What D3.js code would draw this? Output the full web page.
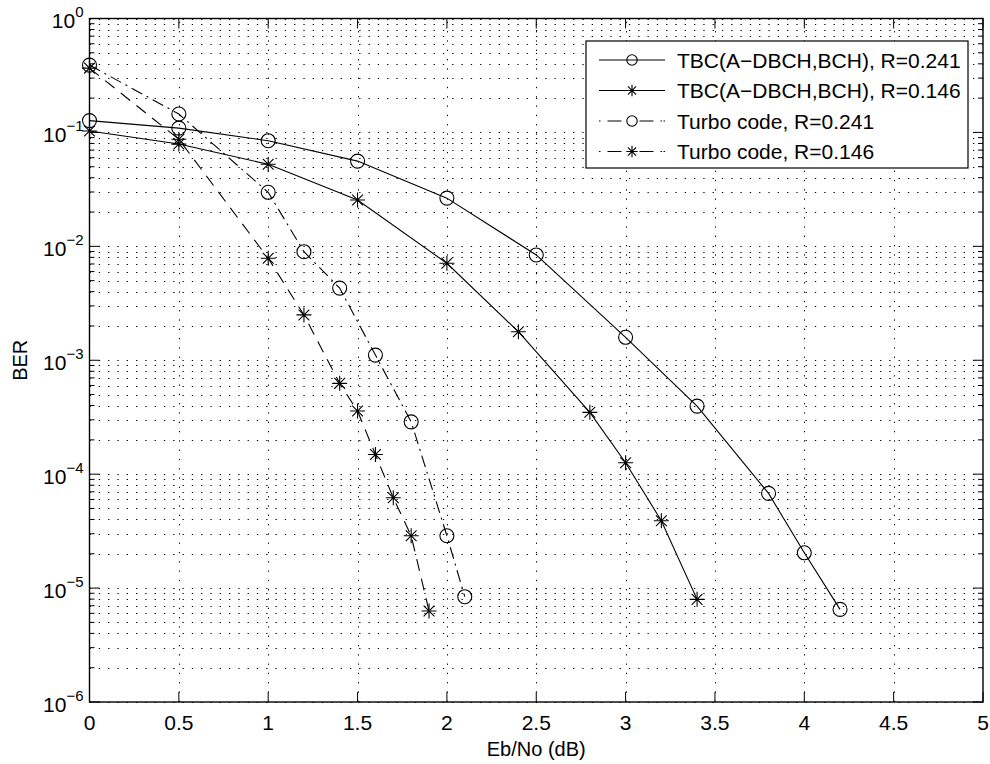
<!DOCTYPE html>
<html>
<head>
<meta charset="utf-8">
<script src="https://cdn.jsdelivr.net/npm/d3@7"></script>
<style>
  html, body { margin: 0; padding: 0; background: #fff; }
  svg { display: block; font-family: "Liberation Sans", Arial, Helvetica, sans-serif; }
</style>
</head>
<body>
<svg id="chart" width="990" height="764"></svg>
<script>
// BER versus Eb/No for the two rates of each coding scheme
const tbc241X = [0, 0.5, 1, 1.5, 2, 2.5, 3, 3.4, 3.8, 4, 4.2];
const tbc241Y = [0.127, 0.109, 0.0846, 0.056, 0.0265, 0.0084, 0.00159, 3.96e-4, 6.78e-5, 2.04e-5, 6.5e-6];

const tbc146X = [0, 0.5, 1, 1.5, 2, 2.4, 2.8, 3.0, 3.2, 3.4];
const tbc146Y = [0.103, 0.079, 0.0525, 0.0255, 0.0071, 1.78e-3, 3.49e-4, 1.26e-4, 3.9e-5, 7.96e-6];

const turbo241X = [0, 0.5, 1, 1.2, 1.4, 1.6, 1.8, 2.0, 2.1];
const turbo241Y = [0.39, 0.145, 0.0298, 0.00897, 0.0043, 0.00111, 2.88e-4, 2.88e-5, 8.4e-6];

const turbo146X = [0, 0.5, 1, 1.2, 1.4, 1.5, 1.6, 1.7, 1.8, 1.9];
const turbo146Y = [0.367, 0.087, 0.00785, 0.0025, 6.27e-4, 3.58e-4, 1.49e-4, 6.2e-5, 2.88e-5, 6.3e-6];

const seriesNames = [
  "TBC(A\u2212DBCH,BCH), R=0.241",
  "TBC(A\u2212DBCH,BCH), R=0.146",
  "Turbo code, R=0.241",
  "Turbo code, R=0.146"
];

const xTicks = [0, 0.5, 1, 1.5, 2, 2.5, 3, 3.5, 4, 4.5, 5];
const xTickLabels = ["0", "0.5", "1", "1.5", "2", "2.5", "3", "3.5", "4", "4.5", "5"];
const yExponents = [0, -1, -2, -3, -4, -5, -6];

const xLabel = "Eb/No (dB)";
const yLabel = "BER";

// ---- layout ----
const plot = { left: 89.5, right: 983, top: 18.5, bottom: 702 };

const svg = d3.select("#chart");
const x = d3.scaleLinear().domain([0, 5]).range([plot.left, plot.right]);
const y = d3.scaleLog().domain([1e-6, 1]).range([plot.bottom, plot.top]);

// ---- dotted grid: x at major ticks, y at every log minor tick ----
const grid = svg.append("g").attr("stroke", "#000").attr("stroke-width", 1)
  .attr("stroke-dasharray", "1.3,8").attr("fill", "none");

const minorYs = [];
yExponents.forEach(e => {
  if (e === 0) return;
  for (let m = 1; m <= 9; m++) minorYs.push(m * Math.pow(10, e));
});
minorYs.push(1);

grid.selectAll("line.h").data(minorYs).join("line")
  .attr("class", "h")
  .attr("x1", plot.left).attr("x2", plot.right)
  .attr("y1", d => Math.round(y(d)) + 0.5).attr("y2", d => Math.round(y(d)) + 0.5);

grid.selectAll("line.v").data(xTicks.slice(1, -1)).join("line")
  .attr("class", "v")
  .attr("x1", d => Math.round(x(d)) + 0.5).attr("x2", d => Math.round(x(d)) + 0.5)
  .attr("y1", plot.bottom).attr("y2", plot.top);

// ---- series ----
const series = [
  { xs: tbc241X, ys: tbc241Y, marker: "circle", dash: null, legDash: null },
  { xs: tbc146X, ys: tbc146Y, marker: "star", dash: null, legDash: null },
  { xs: turbo241X, ys: turbo241Y, marker: "circle", dash: "12,5,2,5", legDash: "1.5,7,14,18,14,7,1.5" },
  { xs: turbo146X, ys: turbo146Y, marker: "star", dash: "12,8", legDash: "1.5,7,14,18,14,7,1.5" }
];

function starPath(r) {
  const a = r * 0.72;
  return `M${-r},0L${r},0M0,${-r}L0,${r}M${-a},${-a}L${a},${a}M${-a},${a}L${a},${-a}`;
}

function drawMarker(g, type, cx, cy, size) {
  if (type === "circle") {
    g.append("circle").attr("cx", cx).attr("cy", cy).attr("r", size)
      .attr("fill", "none").attr("stroke", "#000").attr("stroke-width", 1.1);
  } else {
    g.append("path").attr("transform", `translate(${cx},${cy})`)
      .attr("d", starPath(size + 0.5))
      .attr("fill", "none").attr("stroke", "#000").attr("stroke-width", 1.1);
  }
}

const line = d3.line().x(d => x(d[0])).y(d => y(d[1]));

const marks = svg.append("g");
series.forEach(s => {
  const pts = s.xs.map((v, i) => [v, s.ys[i]]);
  marks.append("path").datum(pts)
    .attr("d", line)
    .attr("fill", "none").attr("stroke", "#000").attr("stroke-width", 1.1)
    .attr("stroke-dasharray", s.dash);
  pts.forEach(p => drawMarker(marks, s.marker, x(p[0]), y(p[1]), 7));
});

// ---- axes box and inward ticks ----
const axes = svg.append("g").attr("stroke", "#000").attr("fill", "none");
axes.append("rect")
  .attr("x", plot.left).attr("y", plot.top)
  .attr("width", plot.right - plot.left).attr("height", plot.bottom - plot.top)
  .attr("stroke-width", 1.4);

const majLen = 10, minLen = 5;
xTicks.forEach(t => {
  const px = x(t);
  axes.append("line").attr("x1", px).attr("x2", px).attr("y1", plot.bottom).attr("y2", plot.bottom - majLen).attr("stroke-width", 1);
  axes.append("line").attr("x1", px).attr("x2", px).attr("y1", plot.top).attr("y2", plot.top + majLen).attr("stroke-width", 1);
});
minorYs.forEach(v => {
  const py = y(v);
  const isMajor = Math.abs(Math.log10(v) - Math.round(Math.log10(v))) < 1e-9;
  const len = isMajor ? majLen : minLen;
  axes.append("line").attr("x1", plot.left).attr("x2", plot.left + len).attr("y1", py).attr("y2", py).attr("stroke-width", 1);
  axes.append("line").attr("x1", plot.right).attr("x2", plot.right - len).attr("y1", py).attr("y2", py).attr("stroke-width", 1);
});

// ---- tick labels ----
const labels = svg.append("g").attr("fill", "#000");
xTicks.forEach((t, i) => {
  labels.append("text").attr("x", x(t)).attr("y", 729.5)
    .attr("text-anchor", "middle").attr("font-size", 21)
    .text(xTickLabels[i]);
});
yExponents.forEach(e => {
  const py = y(Math.pow(10, e));
  const t = labels.append("text").attr("x", plot.left - 6).attr("y", py + 9.5)
    .attr("text-anchor", "end").attr("font-size", 21);
  t.append("tspan").text("10");
  t.append("tspan").attr("font-size", 15).attr("dy", -11)
    .text(e < 0 ? "\u2212" + Math.abs(e) : String(e));
});

// ---- axis titles ----
labels.append("text").attr("x", (plot.left + plot.right) / 2).attr("y", 756)
  .attr("text-anchor", "middle").attr("font-size", 20).text(xLabel);
labels.append("text")
  .attr("transform", `translate(27,${(plot.top + plot.bottom) / 2}) rotate(-90)`)
  .attr("text-anchor", "middle").attr("font-size", 20).text(yLabel);

// ---- legend ----
const leg = svg.append("g");
const box = { x: 586, y: 41, w: 382, h: 127 };
leg.append("rect").attr("x", box.x).attr("y", box.y).attr("width", box.w).attr("height", box.h)
  .attr("fill", "#fff").attr("stroke", "#000").attr("stroke-width", 1.2);
const rowY = [60, 90.5, 121, 151.5];
series.forEach((s, i) => {
  const cy = rowY[i];
  leg.append("line").attr("x1", 599).attr("x2", 665).attr("y1", cy).attr("y2", cy)
    .attr("stroke", "#000").attr("stroke-width", 1.1)
    .attr("stroke-dasharray", s.legDash);
  drawMarker(leg, s.marker, 632, cy, 5.2);
  leg.append("text").attr("x", 677).attr("y", cy + 7.5).attr("font-size", 21)
    .attr("fill", "#000").text(seriesNames[i]);
});
</script>
</body>
</html>
